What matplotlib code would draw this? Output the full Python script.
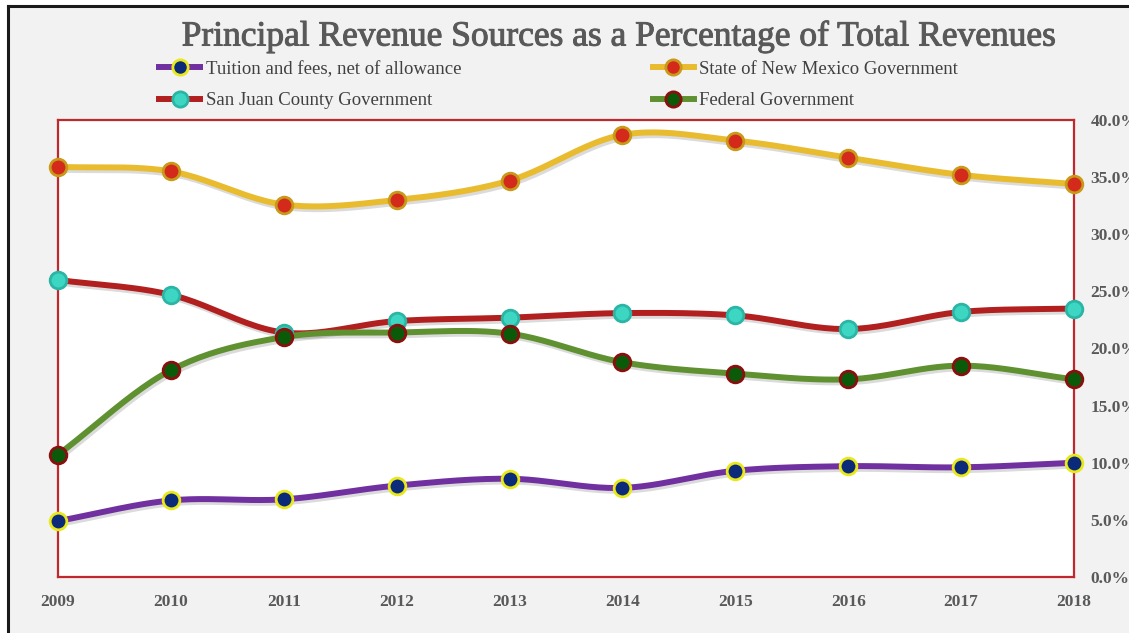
import numpy as np
import matplotlib
matplotlib.use("Agg")
import matplotlib.pyplot as plt
import matplotlib.patheffects as pe
from matplotlib.ticker import PercentFormatter
from matplotlib.lines import Line2D

years = [2009, 2010, 2011, 2012, 2013, 2014, 2015, 2016, 2017, 2018]
tuition = [4.9, 6.7, 6.8, 8.0, 8.6, 7.8, 9.3, 9.7, 9.6, 10.0]
state_nm = [35.9, 35.5, 32.6, 33.0, 34.7, 38.7, 38.2, 36.7, 35.2, 34.4]
san_juan = [26.0, 24.7, 21.4, 22.4, 22.7, 23.1, 22.9, 21.7, 23.2, 23.5]
federal = [10.7, 18.1, 21.0, 21.4, 21.3, 18.8, 17.8, 17.3, 18.5, 17.3]

labels = ["Tuition and fees, net of allowance", "State of New Mexico Government",
          "San Juan County Government", "Federal Government"]
title = "Principal Revenue Sources as a Percentage of Total Revenues"

# style: (line color, marker face, marker edge)
styles = [("#7030a0", "#0b2a7a", "#e8e81a"),
          ("#e9bb2e", "#d42a1c", "#c99a1a"),
          ("#b21f1f", "#3dd6c2", "#2bb5a5"),
          ("#5f9130", "#0a5a0a", "#8a1010")]
series = [tuition, state_nm, san_juan, federal]


def catmull_rom(x, y, n=24):
    x = np.asarray(x, float)
    y = np.asarray(y, float)
    px = np.concatenate([[2 * x[0] - x[1]], x, [2 * x[-1] - x[-2]]])
    py = np.concatenate([[2 * y[0] - y[1]], y, [2 * y[-1] - y[-2]]])
    xs, ys = [], []
    t = np.linspace(0, 1, n, endpoint=False)
    for i in range(1, len(px) - 2):
        for arr, out in ((px, xs), (py, ys)):
            p0, p1, p2, p3 = arr[i - 1], arr[i], arr[i + 1], arr[i + 2]
            out.extend(0.5 * ((2 * p1) + (-p0 + p2) * t +
                              (2 * p0 - 5 * p1 + 4 * p2 - p3) * t ** 2 +
                              (-p0 + 3 * p1 - 3 * p2 + p3) * t ** 3))
    xs.append(x[-1]); ys.append(y[-1])
    return np.array(xs), np.array(ys)


fig = plt.figure(figsize=(11.29, 6.33), dpi=100)
fig.patch.set_facecolor("white")
bg = plt.Rectangle((8 / 1129, 0), 1, 1 - 6 / 633, transform=fig.transFigure,
                   facecolor="#f2f2f2", edgecolor="none", zorder=-10)
fig.patches.append(bg)
fig.add_artist(Line2D([8 / 1129, 8 / 1129], [0, 1 - 6 / 633], transform=fig.transFigure,
                      color="#1a1a1a", lw=2.2))
fig.add_artist(Line2D([8 / 1129, 1], [1 - 6 / 633, 1 - 6 / 633], transform=fig.transFigure,
                      color="#1a1a1a", lw=2.2))

ax = fig.add_axes([58 / 1129, (633 - 577) / 633, (1074 - 58) / 1129, (577 - 120) / 633])
ax.set_facecolor("white")
x = np.arange(len(years))
handles = []
for vals, (lc, mf, me), lab in zip(series, styles, labels):
    sx, sy = catmull_rom(x, vals)
    ax.plot(sx, sy, color=lc, lw=4.3, solid_capstyle="round", zorder=3,
            path_effects=[pe.SimpleLineShadow(offset=(1.2, -2), alpha=0.14), pe.Normal()])
    ax.plot(x, vals, ls="none", marker="o", ms=12, mfc=mf, mec=me, mew=2.0, zorder=4,
            clip_on=False)
    handles.append(Line2D([], [], color=lc, lw=4.3, marker="o", ms=11, mfc=mf, mec=me, mew=2.0))

ax.set_xlim(0, len(years) - 1)
ax.set_ylim(0, 40)
ax.set_yticks(np.arange(0, 41, 5))
ax.yaxis.set_major_formatter(PercentFormatter(decimals=1))
ax.yaxis.tick_right()
ax.set_xticks(x)
ax.set_xticklabels([str(y) for y in years])
ax.tick_params(length=0, labelcolor="#595959", labelsize=12.5)
ax.tick_params(axis="x", pad=12)
ax.tick_params(axis="y", pad=12)
for lab in ax.get_xticklabels() + ax.get_yticklabels():
    lab.set_fontfamily("Liberation Serif")
    lab.set_fontweight("bold")
for s in ax.spines.values():
    s.set_color("#c0282d")
    s.set_linewidth(1.6)

fig.text(619 / 1129, 1 - 37 / 633, title, ha="center", va="center",
         fontsize=25.5, color="#595959", family="Liberation Serif",
         path_effects=[pe.withStroke(linewidth=0.7, foreground="#595959")])

# legend ordered row-wise: (tuition, state) / (san juan, federal)
order = [0, 2, 1, 3]
leg = fig.legend([handles[i] for i in order], [labels[i] for i in order],
                 loc="upper left", bbox_to_anchor=(142 / 1129, 1 - 44 / 633),
                 ncol=2, frameon=False, columnspacing=10.2, handlelength=2.2,
                 handletextpad=0.3, labelspacing=0.75,
                 prop={"family": "Liberation Serif", "size": 13.5})
for t in leg.get_texts():
    t.set_color("#404040")

fig.savefig("out.png", dpi=100, facecolor=fig.get_facecolor())
